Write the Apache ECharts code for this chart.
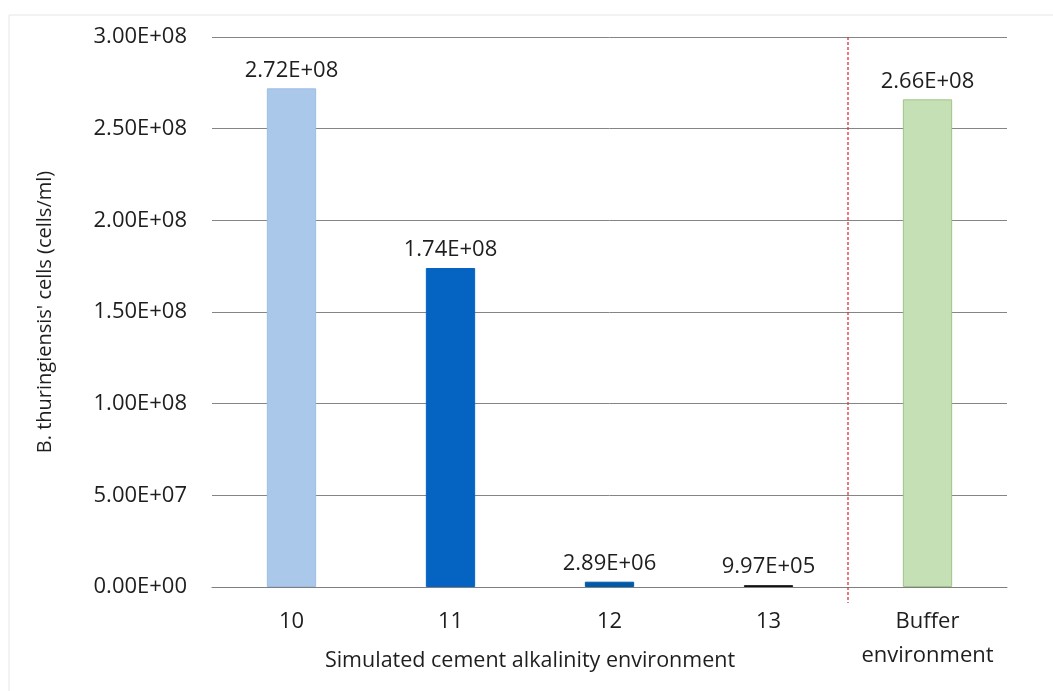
<!DOCTYPE html>
<html>
<head>
<meta charset="utf-8">
<script src="https://cdn.jsdelivr.net/npm/echarts@6/dist/echarts.min.js"></script>
<style>
  html, body { margin: 0; padding: 0; background: #ffffff; }
  #chart { width: 1053px; height: 691px; }
</style>
</head>
<body>
<div id="chart"></div>
<script>
// Cell counts of B. thuringiensis per environment
const categories = ['10', '11', '12', '13', 'Buffer\nenvironment'];
const cellCounts = [2.72e8, 1.74e8, 2.89e6, 9.97e5, 2.66e8];
const barColors = ['#a9c8ea', '#0563c1', '#005aa8', '#111111', '#c5e0b4'];
const barBorders = ['#9dbde2', '#0563c1', '#005aa8', '#111111', '#9fc58a'];
const yTicks = { min: 0, max: 3e8, interval: 5e7 };
const yAxisTitle = "B. thuringiensis' cells (cells/ml)";
const xAxisTitle = 'Simulated cement alkalinity environment';

const FONT = '"Open Sans", "Liberation Sans", sans-serif';
const TEXT = '#1e1e1e';

// Excel-style scientific notation: 2.72E+08
function sci(v) {
  const s = Number(v).toExponential(2);
  const [m, e] = s.split('e');
  const sign = e[0] === '-' ? '-' : '+';
  const digits = e.replace(/[+-]/, '').padStart(2, '0');
  return m + 'E' + sign + digits;
}

const chart = echarts.init(document.getElementById('chart'));

chart.setOption({
  backgroundColor: '#ffffff',
  animation: false,
  grid: { left: 212, right: 46, top: 37, bottom: 104 },
  xAxis: {
    type: 'category',
    data: categories,
    axisLine: { lineStyle: { color: '#7f7f7f', width: 1 } },
    axisTick: { show: false },
    axisLabel: {
      interval: 0, hideOverlap: false,
      color: TEXT, fontFamily: FONT, fontSize: 22, margin: 18, lineHeight: 34
    }
  },
  yAxis: {
    type: 'value',
    min: yTicks.min, max: yTicks.max, interval: yTicks.interval,
    name: yAxisTitle,
    nameLocation: 'middle',
    nameGap: 157,
    nameTextStyle: { color: TEXT, fontFamily: FONT, fontSize: 20 },
    axisLine: { show: false },
    axisTick: { show: false },
    axisLabel: {
      color: TEXT, fontFamily: FONT, fontSize: 22, margin: 25,
      formatter: v => sci(v)
    },
    splitLine: { lineStyle: { color: '#858585', width: 1 } }
  },
  series: [{
    type: 'bar',
    barWidth: '31%',
    data: cellCounts.map((v, i) => ({
      value: v,
      itemStyle: { color: barColors[i], borderColor: barBorders[i], borderWidth: 1 }
    })),
    label: {
      show: true, position: 'top', distance: 7,
      color: TEXT, fontFamily: FONT, fontSize: 22,
      formatter: p => sci(p.value)
    }
  }]
});

// Separator between the alkalinity groups and the buffer, plus the group title
function drawOverlay() {
  const xBetween = (chart.convertToPixel({ xAxisIndex: 0 }, 3) +
                    chart.convertToPixel({ xAxisIndex: 0 }, 4)) / 2;
  const yTop = chart.convertToPixel({ yAxisIndex: 0 }, yTicks.max);
  const yZero = chart.convertToPixel({ yAxisIndex: 0 }, 0);
  const xGroupMid = (chart.convertToPixel({ xAxisIndex: 0 }, 0) +
                     chart.convertToPixel({ xAxisIndex: 0 }, 3)) / 2;
  chart.setOption({
    graphic: [
      {
        type: 'rect', silent: true, z: -1,
        shape: { x: 9, y: 15, width: 1100, height: 800 },
        style: { fill: 'none', stroke: '#e6e6e6', lineWidth: 1 }
      },
      {
        type: 'line', silent: true, z: 10,
        shape: { x1: xBetween, y1: yTop, x2: xBetween, y2: yZero + 16 },
        style: { stroke: '#e0303a', lineWidth: 1.3, lineDash: [3, 2] }
      },
      {
        type: 'text', silent: true,
        x: xGroupMid, y: yZero + 74,
        style: {
          text: xAxisTitle, fill: TEXT, font: '21.5px ' + FONT,
          align: 'center', verticalAlign: 'middle'
        }
      }
    ]
  });
}
drawOverlay();
</script>
</body>
</html>
